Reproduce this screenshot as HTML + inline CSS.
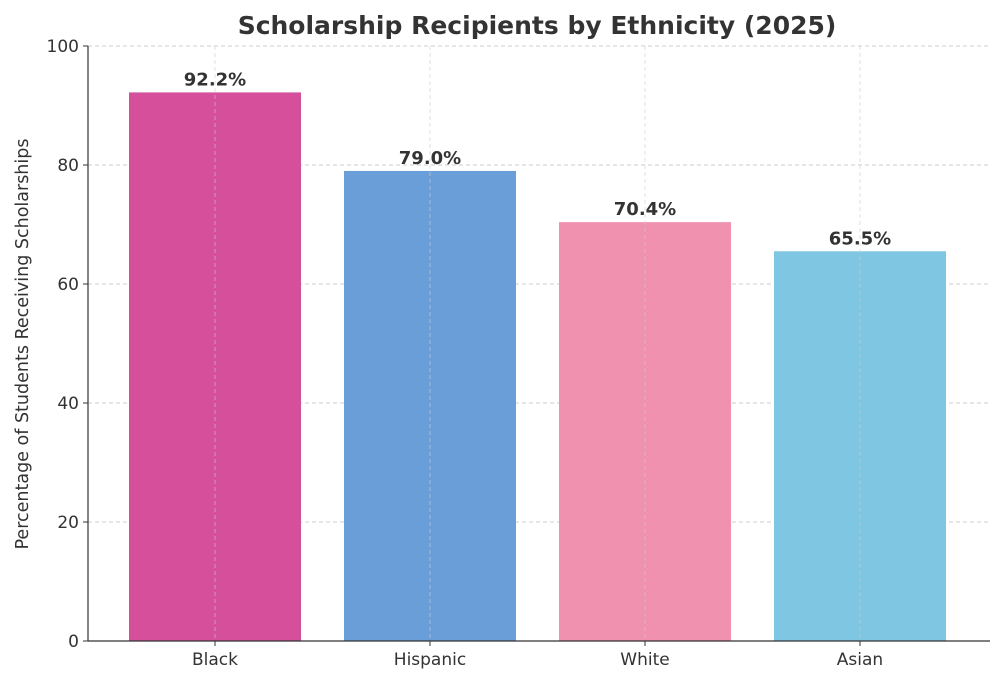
<!DOCTYPE html>
<html><head><meta charset="utf-8"><style>
body{margin:0;background:#fff;}
svg text{font-family:"DejaVu Sans","Liberation Sans",sans-serif;fill:#333;}
</style></head><body>
<svg id="chart" width="1000" height="681" viewBox="0 0 1000 681">
<text x="537" y="34" text-anchor="middle" font-size="25" font-weight="bold">Scholarship Recipients by Ethnicity (2025)</text>
<text transform="translate(28,344) rotate(-90)" text-anchor="middle" font-size="17.5">Percentage of Students Receiving Scholarships</text>
<g id="grid"></g><g id="bars"></g><g id="axes"></g>
</svg>
<script>
const categories=["Black","Hispanic","White","Asian"];
const values=[92.2,79.0,70.4,65.5];
const colors=["#d64f9a","#6a9ed9","#f191b0","#7fc6e2"];
const yTicks=[0,20,40,60,80,100];
const NS="http://www.w3.org/2000/svg";
const L=88,R=990,T=46,B=641,step=215,x0=215;
const y=v=>B-(v/100)*(B-T);
const x=i=>x0+i*step;
function mk(t,a,p){const e=document.createElementNS(NS,t);for(const k in a)e.setAttribute(k,a[k]);p.appendChild(e);return e;}
const g=document.getElementById('grid'),b=document.getElementById('bars'),ax=document.getElementById('axes');
yTicks.forEach(v=>{
 if(v>0){const l=mk('line',{x1:L,x2:R,y1:y(v),y2:y(v),stroke:'#ccc','stroke-dasharray':'4,3','stroke-width':1},g);
 
 }
 const tk=mk('line',{x1:L-5,x2:L,y1:y(v),y2:y(v),stroke:'#333'},ax);
 
 
 const t=mk('text',{x:L-9,y:y(v)+6,'text-anchor':'end','font-size':17},ax);t.textContent=v;
 
 
});
categories.forEach((c,i)=>{
 const w=172;
 const r=mk('rect',{x:x(i)-w/2,y:y(values[i]),width:w,height:B-y(values[i]),fill:colors[i]},b);
 
 
 const gl=mk('line',{x1:x(i),x2:x(i),y1:T,y2:B,stroke:'#ccc','stroke-dasharray':'4,3','stroke-width':1,opacity:0.6},b);
 
 
 const vl=mk('text',{x:x(i),y:y(values[i])-7,'text-anchor':'middle','font-size':18,'font-weight':'bold'},b);vl.textContent=values[i].toFixed(1)+'%';
 
 
 const tk=mk('line',{x1:x(i),x2:x(i),y1:B,y2:B+5,stroke:'#333'},ax);
 
 
 const t=mk('text',{x:x(i),y:B+24,'text-anchor':'middle','font-size':17},ax);t.textContent=c;
 
 
});
const la=mk('line',{x1:L,x2:L,y1:T,y2:B,stroke:'#333','stroke-width':1.2},ax);


const ba=mk('line',{x1:L,x2:R,y1:B,y2:B,stroke:'#333','stroke-width':1.2},ax);


</script>
</body></html>
